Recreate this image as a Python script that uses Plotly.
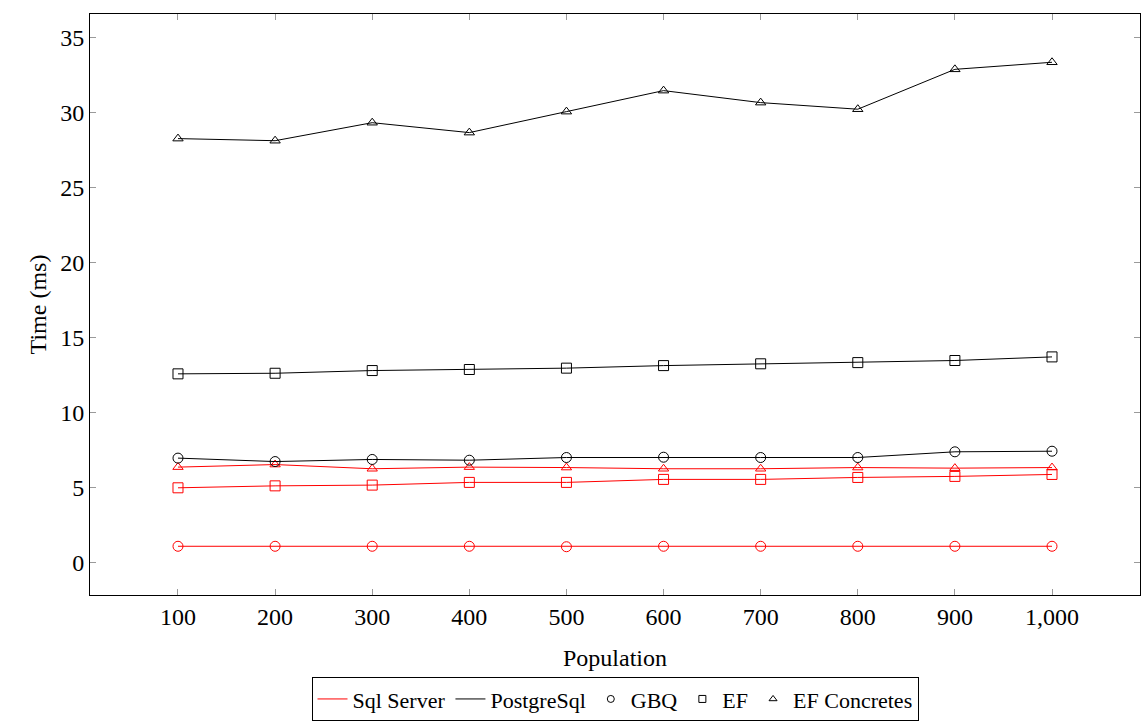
import plotly.graph_objects as go

population = [100, 200, 300, 400, 500, 600, 700, 800, 900, 1000]
tick_labels = ["100", "200", "300", "400", "500", "600", "700", "800", "900", "1,000"]

sql_gbq = [1.1, 1.1, 1.1, 1.1, 1.07, 1.1, 1.1, 1.1, 1.1, 1.1]
sql_ef = [5.0, 5.13, 5.18, 5.36, 5.36, 5.56, 5.56, 5.69, 5.76, 5.89]
sql_efc = [6.38, 6.55, 6.27, 6.38, 6.35, 6.27, 6.27, 6.35, 6.31, 6.35]
pg_gbq = [6.98, 6.75, 6.89, 6.84, 7.02, 7.04, 7.02, 7.02, 7.4, 7.44]
pg_ef = [12.6, 12.64, 12.82, 12.89, 12.98, 13.15, 13.27, 13.35, 13.49, 13.73]
pg_efc = [28.29, 28.15, 29.35, 28.69, 30.09, 31.49, 30.69, 30.25, 32.91, 33.38]

RED = "#ff0000"
BLACK = "#000000"
FONT = "Liberation Serif"
FS = 24

fig = go.Figure()

series = [
    (sql_gbq, RED, "circle-open"),
    (sql_ef, RED, "square-open"),
    (sql_efc, RED, "triangle-up-open"),
    (pg_gbq, BLACK, "circle-open"),
    (pg_ef, BLACK, "square-open"),
    (pg_efc, BLACK, "triangle-up-open"),
]
for ys, col, sym in series:
    fig.add_trace(go.Scatter(
        x=population, y=ys, mode="lines+markers",
        line=dict(color=col, width=1),
        marker=dict(symbol=sym, size=10 if sym != "triangle-up-open" else 9,
                    color=col, line=dict(color=col, width=1)),
        showlegend=False, hoverinfo="x+y",
    ))

# legend entries
fig.add_trace(go.Scatter(x=[None], y=[None], mode="lines", name="Sql Server",
                         line=dict(color=RED, width=1)))
fig.add_trace(go.Scatter(x=[None], y=[None], mode="lines", name="PostgreSql",
                         line=dict(color=BLACK, width=1)))
for nm, sym in [("GBQ", "circle-open"), ("EF", "square-open"), ("EF Concretes", "triangle-up-open")]:
    fig.add_trace(go.Scatter(x=[None], y=[None], mode="markers", name=nm,
                             marker=dict(symbol=sym, size=7, color=BLACK,
                                         line=dict(color=BLACK, width=1))))

axis_common = dict(
    showline=True, linecolor=BLACK, linewidth=1, mirror="allticks",
    ticks="inside", ticklen=6, tickcolor="#9a9a9a", tickwidth=1,
    showgrid=False, zeroline=False,
    tickfont=dict(family=FONT, size=FS, color=BLACK),
)

fig.update_layout(
    width=1146, height=725,
    margin=dict(l=90, r=6, t=14, b=130),
    paper_bgcolor="white", plot_bgcolor="white",
    font=dict(family=FONT, size=FS, color=BLACK),
    xaxis=dict(range=[9.4, 1090.6], tickvals=population, ticktext=tick_labels,
               title=dict(text="Population", font=dict(family=FONT, size=FS), standoff=20),
               automargin=False, **axis_common),
    yaxis=dict(range=[-2.15, 36.6], tickvals=[0, 5, 10, 15, 20, 25, 30, 35],
               title=dict(text="Time (ms)", font=dict(family=FONT, size=FS), standoff=6),
               automargin=False, **axis_common),
    legend=dict(orientation="h", x=0.5, xanchor="center",
                yref="container", y=0.066, yanchor="top",
                bordercolor=BLACK, borderwidth=1, bgcolor="white",
                font=dict(family=FONT, size=22, color=BLACK),
                itemwidth=30, tracegroupgap=0),
)

fig.write_html("out.html")
